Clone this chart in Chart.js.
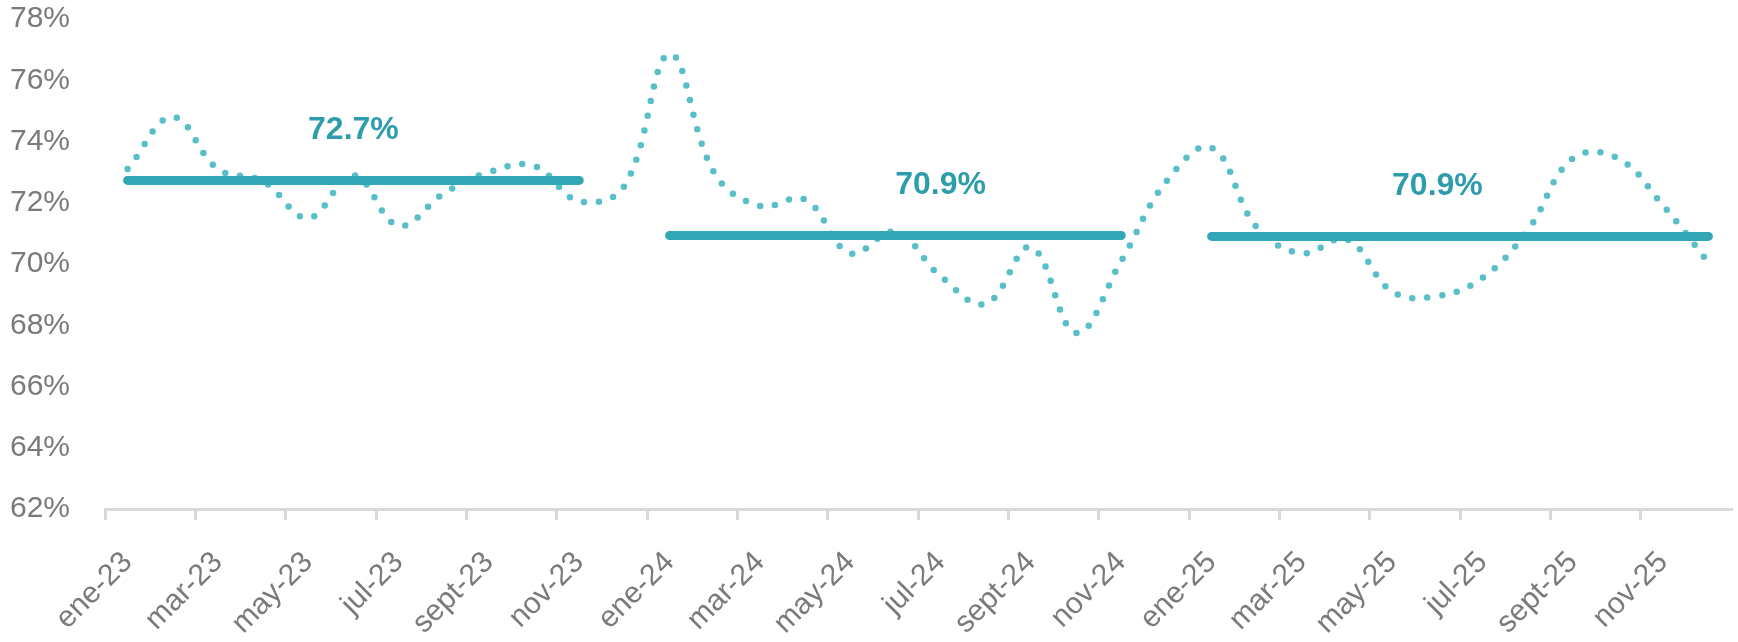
<!DOCTYPE html>
<html>
<head>
<meta charset="utf-8">
<script src="https://cdn.jsdelivr.net/npm/chart.js@4.4.1/dist/chart.umd.min.js"></script>
<style>
  html, body { margin: 0; padding: 0; background: #ffffff; overflow: hidden; }
  #wrap { width: 1738px; height: 642px; position: relative; }
</style>
</head>
<body>
<div id="wrap"><canvas id="c"></canvas></div>
<script>
// ---- data ----
const categories = [
  'ene-23','feb-23','mar-23','abr-23','may-23','jun-23','jul-23','ago-23','sept-23','oct-23','nov-23','dic-23',
  'ene-24','feb-24','mar-24','abr-24','may-24','jun-24','jul-24','ago-24','sept-24','oct-24','nov-24','dic-24',
  'ene-25','feb-25','mar-25','abr-25','may-25','jun-25','jul-25','ago-25','sept-25','oct-25','nov-25','dic-25'
];
const monthlyValues = [
  73.1, 74.8, 73.1, 72.7, 71.5, 72.9, 71.25, 72.3, 73.0, 73.2, 72.05, 72.55,
  76.85, 72.95, 71.9, 72.1, 70.35, 71.05, 69.6, 68.7, 70.55, 67.75, 70.1, 72.7,
  73.8, 71.2, 70.35, 70.8, 69.1, 68.95, 69.55, 71.1, 73.45, 73.45, 71.9, 70.05
];
const averageValues = [
  72.73, 72.73, 72.73, 72.73, 72.73, 72.73, 72.73, 72.73, 72.73, 72.73, 72.73, null,
  70.93, 70.93, 70.93, 70.93, 70.93, 70.93, 70.93, 70.93, 70.93, 70.93, 70.93, null,
  70.9, 70.9, 70.9, 70.9, 70.9, 70.9, 70.9, 70.9, 70.9, 70.9, 70.9, 70.9
];
const averageLabelIndices = [5, 18, 29];
const yTicks = [62, 64, 66, 68, 70, 72, 74, 76, 78];

// ---- rendering ----
const FONT = "'Liberation Sans', Arial, sans-serif";
const labelPlugin = {
  id: 'avgLabels',
  afterDatasetsDraw(chart) {
    const ctx = chart.ctx;
    const meta = chart.getDatasetMeta(0);
    ctx.save();
    ctx.font = 'bold 32px ' + FONT;
    ctx.fillStyle = '#2D9DAC';
    ctx.textAlign = 'center';
    ctx.textBaseline = 'middle';
    averageLabelIndices.forEach(i => {
      const pt = meta.data[i];
      ctx.fillText(averageValues[i].toFixed(1) + '%', pt.x, pt.y - 50);
    });
    ctx.restore();
  }
};

new Chart(document.getElementById('c'), {
  type: 'line',
  data: {
    labels: categories,
    datasets: [
      {
        label: 'Promedio',
        data: averageValues,
        borderColor: '#31A7B6',
        borderWidth: 9,
        borderCapStyle: 'round',
        pointRadius: 0,
        tension: 0,
        spanGaps: false,
        order: 0
      },
      {
        label: 'Mensual',
        data: monthlyValues,
        borderColor: '#58BFC8',
        borderWidth: 6.5,
        borderCapStyle: 'round',
        borderDash: [0, 15],
        pointRadius: 0,
        tension: 0.4,
        order: 1
      }
    ]
  },
  options: {
    responsive: true,
    maintainAspectRatio: false,
    animation: false,
    layout: { padding: { left: 10, right: 7, top: 19, bottom: 0 } },
    plugins: {
      legend: { display: false },
      tooltip: { enabled: false }
    },
    scales: {
      x: {
        offset: true,
        afterFit: (axis) => { axis.height = 133; axis.paddingLeft = 0; axis.paddingRight = 0; },
        grid: {
          display: true,
          offset: true,
          drawOnChartArea: false,
          drawTicks: true,
          tickLength: 11,
          lineWidth: 3,
          color: (c) => (c.index % 2 === 0 ? '#D9D9D9' : 'rgba(0,0,0,0)')
        },
        border: { display: true, color: '#D9D9D9', width: 3 },
        ticks: {
          autoSkip: false,
          maxRotation: 45,
          minRotation: 45,
          padding: 25,
          color: '#7A7A7A',
          font: { family: FONT, size: 30 },
          callback: function (v, i) { return i % 2 === 0 ? categories[i] : ''; }
        }
      },
      y: {
        min: 62,
        max: 78,
        afterFit: (axis) => { axis.width = 95; axis.paddingTop = 0; axis.paddingBottom = 0; },
        afterBuildTicks: (axis) => { axis.ticks = yTicks.map(v => ({ value: v })); },
        grid: { display: false },
        border: { display: false },
        ticks: {
          padding: 27,
          color: '#7A7A7A',
          font: { family: FONT, size: 30 },
          callback: (v) => v + '%'
        }
      }
    }
  },
  plugins: [labelPlugin]
});
</script>
</body>
</html>
